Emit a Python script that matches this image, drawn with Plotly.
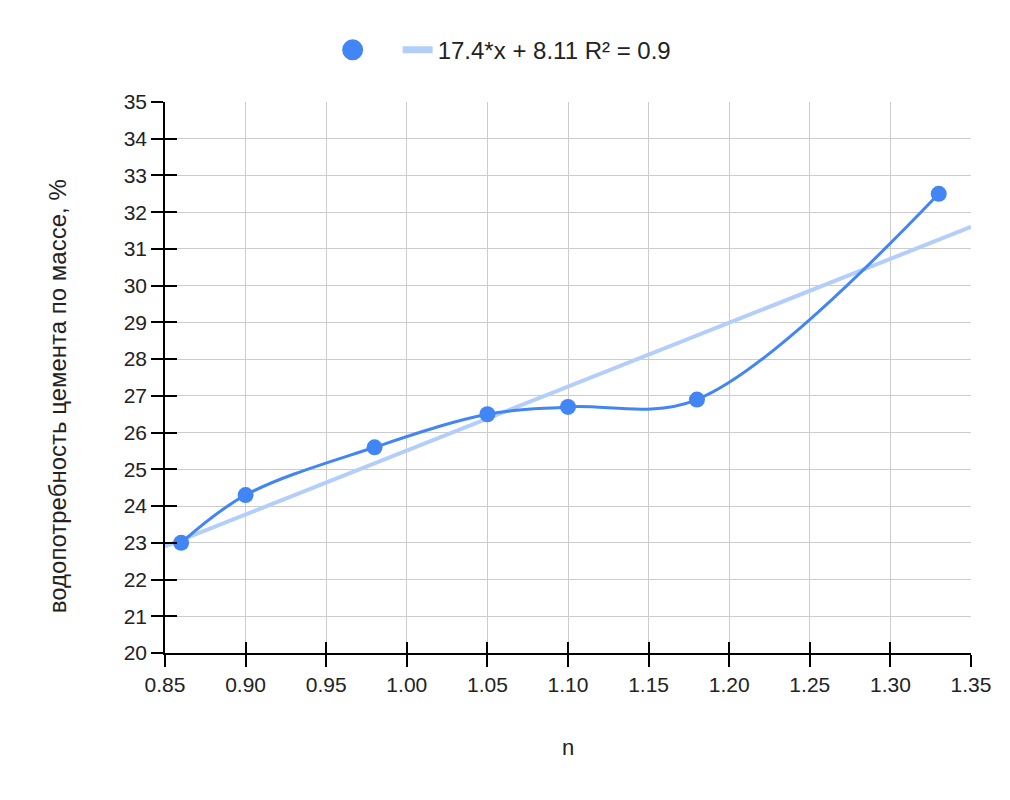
import plotly.graph_objects as go

n_vals = [0.86, 0.90, 0.98, 1.05, 1.10, 1.18, 1.33]
water = [23.0, 24.3, 25.6, 26.5, 26.7, 26.9, 32.5]
trend_x = [0.85, 1.35]
slope = 17.4
intercept = 8.11
trend_name = "17.4*x + 8.11 R² = 0.9"
y_title = "водопотребность цемента по массе, %"
x_ticks = [0.85, 0.90, 0.95, 1.00, 1.05, 1.10, 1.15, 1.20, 1.25, 1.30, 1.35]
y_ticks = list(range(20, 36))

trend_y = [slope * x + intercept for x in trend_x]

blue = "#4285F4"
light = "#B3CEFB"
font = "Liberation Sans, Arial, sans-serif"

fig = go.Figure()
# legend-only entries
fig.add_trace(go.Scatter(x=[None], y=[None], mode="markers", name="\u00a0\u00a0\u00a0",
                         marker=dict(color=blue, size=24, line=dict(color=blue, width=5)),
                         showlegend=True))
fig.add_trace(go.Scatter(x=[None], y=[None], mode="lines", name=trend_name,
                         line=dict(color=light, width=7), showlegend=True))
fig.add_trace(go.Scatter(x=trend_x, y=trend_y, mode="lines", showlegend=False,
                         line=dict(color=light, width=4)))
fig.add_trace(go.Scatter(x=n_vals, y=water, mode="lines+markers", showlegend=False,
                         line=dict(color=blue, width=3, shape="spline", smoothing=1.0),
                         marker=dict(color=blue, size=16)))
# invisible trace for overlay axes (inside tick halves)
fig.add_trace(go.Scatter(x=[None], y=[None], xaxis="x2", yaxis="y2", showlegend=False,
                         hoverinfo="skip"))

axis_common = dict(showline=True, linecolor="black", linewidth=1.5,
                   gridcolor="#CCCCCC", gridwidth=1, zeroline=False,
                   tickcolor="black", tickwidth=1.5, ticklen=12,
                   tickfont=dict(family=font, size=21, color="#222222"))

fig.update_layout(
    width=1010, height=800,
    paper_bgcolor="white", plot_bgcolor="white",
    margin=dict(l=157, r=47, t=94, b=155),
    font=dict(family=font, size=21, color="#222222"),
    xaxis=dict(range=[0.85, 1.35], tickvals=x_ticks,
               ticktext=[f"{v:.2f}" for v in x_ticks], ticks="outside",
               title=dict(text="n", standoff=45, font=dict(size=22)),
               **axis_common),
    yaxis=dict(range=[20, 35], tickvals=y_ticks, ticks="outside", **axis_common),
    xaxis2=dict(overlaying="x", range=[0.85, 1.35], tickvals=x_ticks, ticks="inside",
                ticklen=11, tickcolor="black", tickwidth=1.5, showticklabels=False,
                showgrid=False, zeroline=False, side="bottom"),
    yaxis2=dict(overlaying="y", range=[20, 35], tickvals=y_ticks, ticks="inside",
                ticklen=12, tickcolor="black", tickwidth=1.5, showticklabels=False,
                showgrid=False, zeroline=False, side="left"),
    legend=dict(orientation="h", x=0.208, xanchor="left", y=1.094, yanchor="middle",
                font=dict(family=font, size=24, color="#222222"),
                bgcolor="rgba(0,0,0,0)"),
    annotations=[dict(text=y_title, textangle=-90, xref="paper", yref="paper",
                      x=-0.134, y=0.466, xanchor="center", yanchor="middle",
                      showarrow=False, font=dict(family=font, size=24, color="#222222"))],
    showlegend=True,
)

fig.write_html("out.html")
